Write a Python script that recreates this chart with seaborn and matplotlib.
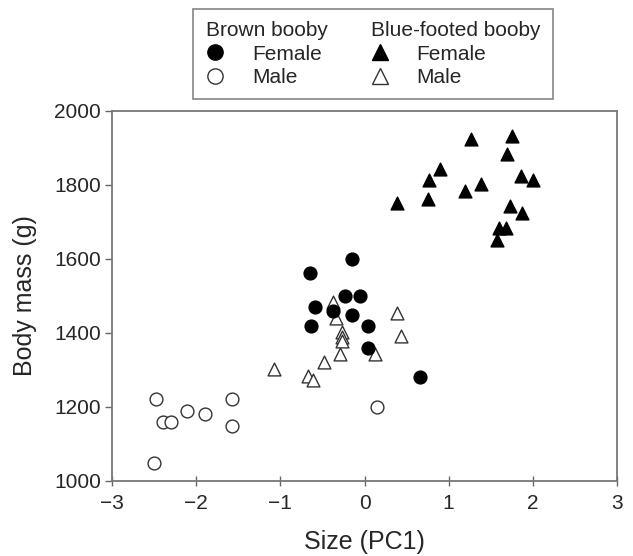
import pandas as pd
import matplotlib
matplotlib.use('Agg')
import matplotlib.pyplot as plt
from matplotlib.lines import Line2D
import seaborn as sns

# Values: size (PC1) and body mass (g)
brown_female_x = [-0.65, -0.15, -0.59, -0.63, -0.23, -0.05, -0.15, -0.37, 0.04, 0.04, 0.66]
brown_female_y = [1562, 1600, 1470, 1418, 1500, 1500, 1450, 1460, 1418, 1360, 1280]

brown_male_x = [-2.48, -2.40, -2.30, -2.11, -1.90, -1.58, -1.57, -2.50, 0.15]
brown_male_y = [1221, 1160, 1160, 1190, 1180, 1221, 1150, 1050, 1200]

blue_female_x = [0.39, 0.77, 0.90, 0.76, 1.26, 1.75, 1.69, 1.19, 1.39, 1.86, 2.00, 1.73, 1.87, 1.60, 1.68, 1.58]
blue_female_y = [1751, 1813, 1842, 1762, 1923, 1933, 1883, 1784, 1804, 1823, 1813, 1742, 1724, 1685, 1685, 1652]

blue_male_x = [-0.38, -0.34, -0.27, -0.27, -0.27, -0.29, -0.48, -1.07, -0.67, -0.61, 0.13, 0.39, 0.43]
blue_male_y = [1483, 1441, 1403, 1388, 1378, 1342, 1322, 1304, 1283, 1272, 1342, 1454, 1393]

rows = []
for xs, ys, sp, sex in [(brown_female_x, brown_female_y, 'Brown booby', 'Female'),
                        (brown_male_x, brown_male_y, 'Brown booby', 'Male'),
                        (blue_female_x, blue_female_y, 'Blue-footed booby', 'Female'),
                        (blue_male_x, blue_male_y, 'Blue-footed booby', 'Male')]:
    for x, y in zip(xs, ys):
        rows.append({'size': x, 'mass': y, 'species': sp, 'sex': sex})
df = pd.DataFrame(rows)

sns.set_style('white')
plt.rcParams['font.family'] = ['Liberation Sans', 'DejaVu Sans']

fig = plt.figure(figsize=(6.33, 5.56), dpi=100)
ax = fig.add_axes([112 / 633, 1 - 481 / 556, 505 / 633, 370 / 556])

edge = '#333333'
styles = {
    ('Brown booby', 'Male'): dict(marker='o', color='white'),
    ('Blue-footed booby', 'Male'): dict(marker='^', color='white'),
    ('Brown booby', 'Female'): dict(marker='o', color='black'),
    ('Blue-footed booby', 'Female'): dict(marker='^', color='black'),
}
for (sp, sex), st in styles.items():
    sub = df[(df['species'] == sp) & (df['sex'] == sex)]
    sns.scatterplot(data=sub, x='size', y='mass', ax=ax, s=85,
                    marker=st['marker'], color=st['color'],
                    edgecolor=edge if st['color'] == 'white' else 'black',
                    linewidth=1.0, legend=False, zorder=3)

ax.set_xlim(-3, 3)
ax.set_ylim(1000, 2000)
ax.set_xticks([-3, -2, -1, 0, 1, 2, 3])
ax.set_xticklabels(['\u22123', '\u22122', '\u22121', '0', '1', '2', '3'])
ax.set_yticks([1000, 1200, 1400, 1600, 1800, 2000])
ax.set_xlabel('Size (PC1)', fontsize=18, labelpad=12)
ax.set_ylabel('Body mass (g)', fontsize=18, labelpad=12)
ax.tick_params(axis='both', labelsize=15, width=1, color='#666666',
               bottom=True, left=True)
ax.tick_params(axis='x', direction='inout', length=7, pad=6)
ax.tick_params(axis='y', direction='out', length=5, pad=3)
for sp in ax.spines.values():
    sp.set_color('#777777')
    sp.set_linewidth(1.3)

blank = Line2D([], [], linestyle='none', marker=None)
handles = [
    blank,
    Line2D([], [], linestyle='none', marker='o', markersize=11,
           markerfacecolor='black', markeredgecolor='black'),
    Line2D([], [], linestyle='none', marker='o', markersize=11,
           markerfacecolor='white', markeredgecolor=edge),
    blank,
    Line2D([], [], linestyle='none', marker='^', markersize=11,
           markerfacecolor='black', markeredgecolor='black'),
    Line2D([], [], linestyle='none', marker='^', markersize=11,
           markerfacecolor='white', markeredgecolor=edge),
]
labels = ['Brown booby', 'Female', 'Male', 'Blue-footed booby', 'Female', 'Male']
leg = fig.legend(handles, labels, ncol=2, loc='upper center',
                 bbox_to_anchor=(373 / 633, 1 - 9 / 556), borderaxespad=0,
                 fontsize=15, frameon=True, fancybox=False, edgecolor='#666666',
                 handlelength=0.9, handletextpad=1.3, columnspacing=2.05,
                 labelspacing=0.2, borderpad=0.6)
leg.get_frame().set_linewidth(1.2)
# pull the column titles left so they start where the markers do
for col in leg._legend_handle_box.get_children():
    title_row = col.get_children()[0]
    title_row.get_children()[0].set_width(0)
    title_row.sep = 0

fig.savefig('out.png', dpi=100)
